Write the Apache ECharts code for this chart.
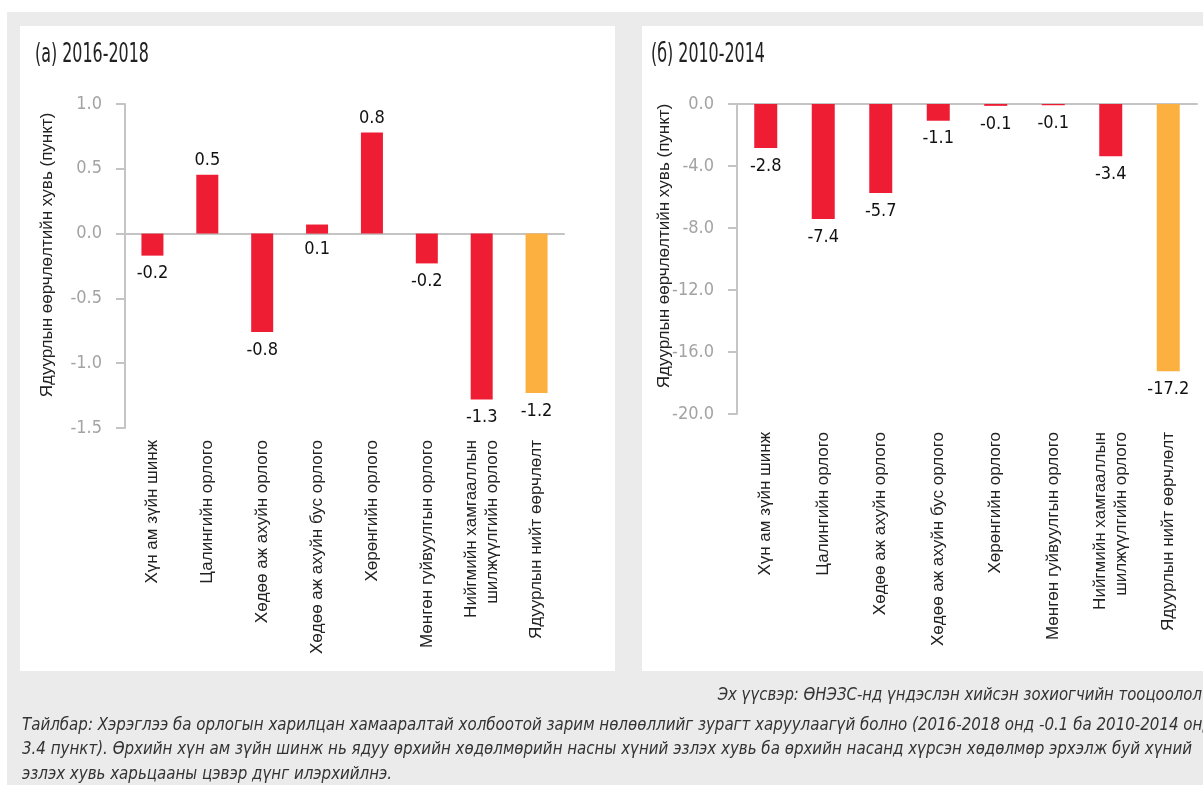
<!DOCTYPE html>
<html>
<head>
<meta charset="utf-8">
<script src="https://cdn.jsdelivr.net/npm/echarts@6/dist/echarts.min.js"></script>
<style>
html,body{margin:0;padding:0;background:#fff;}
#c{width:1203px;height:785px;}
</style>
</head>
<body>
<div id="c"></div>
<script>
// ---- data ----
const categories = [
  'Хүн ам зүйн шинж',
  'Цалингийн орлого',
  'Хөдөө аж ахуйн орлого',
  'Хөдөө аж ахуйн бус орлого',
  'Хөрөнгийн орлого',
  'Мөнгөн гуйвуулгын орлого',
  'Нийгмийн хамгааллын\nшилжүүлгийн орлого',
  'Ядуурлын нийт өөрчлөлт'
];
const valuesA = [-0.17, 0.455, -0.76, 0.07, 0.78, -0.23, -1.28, -1.23];
const valuesB = [-2.84, -7.42, -5.74, -1.08, -0.12, -0.08, -3.37, -17.24];
const titleA = '(а) 2016-2018';
const titleB = '(б) 2010-2014';
const yAxisName = 'Ядуурлын өөрчлөлтийн хувь (пункт)';
const yTicksA = {min: -1.5, max: 1.0, interval: 0.5};
const yTicksB = {min: -20, max: 0, interval: 4};
const sourceText = 'Эх үүсвэр: ӨНЭЗС-нд үндэслэн хийсэн зохиогчийн тооцоолол';
const noteLines = [
  'Тайлбар: Хэрэглээ ба орлогын харилцан хамааралтай холбоотой зарим нөлөөллийг зурагт харуулаагүй болно (2016-2018 онд -0.1 ба 2010-2014 онд',
  '3.4 пункт). Өрхийн хүн ам зүйн шинж нь ядуу өрхийн хөдөлмөрийн насны хүний эзлэх хувь ба өрхийн насанд хүрсэн хөдөлмөр эрхэлж буй хүний',
  'эзлэх хувь харьцааны цэвэр дүнг илэрхийлнэ.'
];

// ---- styles ----
const RED = '#EE1D34';
const ORANGE = '#FBB040';
const COND = '"Liberation Sans Narrow","DejaVu Sans Condensed","Roboto Condensed",sans-serif';
const SANS = '"Liberation Sans",Arial,sans-serif';
const AXIS_GRAY = '#c4c4c4';
const TICK_GRAY = '#a3a3a3';

function barData(vals) {
  return vals.map((v, i) => ({
    value: v,
    itemStyle: {color: i === vals.length - 1 ? ORANGE : RED}
  }));
}

const chart = echarts.init(document.getElementById('c'), null, {renderer: 'canvas'});

function yAxisCfg(grid, t) {
  return {
    type: 'value', gridIndex: grid, min: t.min, max: t.max, interval: t.interval,
    axisLine: {show: true, lineStyle: {color: AXIS_GRAY, width: 2}},
    axisTick: {show: true, length: 9, lineStyle: {color: AXIS_GRAY, width: 2}},
    splitLine: {show: false},
    axisLabel: {color: TICK_GRAY, fontFamily: COND, fontSize: 18, margin: 23,
      formatter: v => v.toFixed(1)}
  };
}
function xLabelAxis(grid, margin) {
  return {
    type: 'category', gridIndex: grid, data: categories, position: 'bottom',
    axisLine: {show: false, onZero: false}, axisTick: {show: false},
    axisLabel: {interval: 0, rotate: 90, margin: margin, color: '#222',
      fontFamily: SANS, fontSize: 17, lineHeight: 21}
  };
}
function xZeroAxis(grid, yIdx) {
  return {
    type: 'category', gridIndex: grid, data: categories,
    axisLine: {show: true, onZero: true, onZeroAxisIndex: yIdx, lineStyle: {color: AXIS_GRAY, width: 2}},
    axisTick: {show: false}, axisLabel: {show: false}, splitLine: {show: false}
  };
}

const titleFont = '26px ' + COND;
const noteFont = 'italic 18px ' + COND;

const option = {
  backgroundColor: '#fff',
  animation: false,
  graphic: [
    {type: 'rect', z: -10, shape: {x: 7, y: 12, width: 1200, height: 780}, style: {fill: '#ebebeb'}},
    {type: 'rect', z: -9, shape: {x: 20, y: 26, width: 595, height: 645}, style: {fill: '#fff'}},
    {type: 'rect', z: -9, shape: {x: 642, y: 26, width: 570, height: 645}, style: {fill: '#fff'}},
    {type: 'text', x: 35, y: 55, scaleX: 0.68, style: {text: titleA, font: titleFont, fill: '#222', verticalAlign: 'middle'}},
    {type: 'text', x: 651, y: 55, scaleX: 0.68, style: {text: titleB, font: titleFont, fill: '#222', verticalAlign: 'middle'}},
    {type: 'text', x: 47, y: 255, rotation: Math.PI / 2, style: {text: yAxisName, font: '17px ' + SANS, fill: '#222', align: 'center', verticalAlign: 'middle'}},
    {type: 'text', x: 664, y: 246, rotation: Math.PI / 2, style: {text: yAxisName, font: '17px ' + SANS, fill: '#222', align: 'center', verticalAlign: 'middle'}},
    {type: 'text', x: 1202, y: 695, scaleX: 0.92, style: {text: sourceText, font: noteFont, fill: '#333', align: 'right', verticalAlign: 'middle'}},
    ...noteLines.map((t, i) => ({type: 'text', x: 22, y: 725 + i * 24.5, scaleX: 0.93,
      style: {text: t, font: noteFont, fill: '#333', verticalAlign: 'middle'}}))
  ],
  grid: [
    {left: 125, top: 104, width: 439, height: 324, containLabel: false},
    {left: 737, top: 104, width: 460, height: 310, containLabel: false}
  ],
  xAxis: [xLabelAxis(0, 12), xZeroAxis(0, 0), xLabelAxis(1, 18), xZeroAxis(1, 1)],
  yAxis: [yAxisCfg(0, yTicksA), yAxisCfg(1, yTicksB)],
  series: [
    {
      type: 'bar', xAxisIndex: 0, yAxisIndex: 0, barWidth: 22,
      data: barData(valuesA),
      label: {show: true, position: 'top', distance: 5, color: '#111', fontFamily: COND, fontSize: 18,
        formatter: p => p.value.toFixed(1)}
    },
    {
      type: 'bar', xAxisIndex: 2, yAxisIndex: 1, barWidth: 23,
      data: barData(valuesB),
      label: {show: true, position: 'bottom', distance: 9, color: '#111', fontFamily: COND, fontSize: 18,
        formatter: p => p.value.toFixed(1)}
    }
  ]
};
// panel A: labels below for negative bars and for the tiny positive bar
option.series[0].data.forEach(d => {
  if (d.value < 0) d.label = {position: 'bottom', distance: 9};
  else if (d.value < 0.1) d.label = {position: 'bottom', distance: 7};
});
chart.setOption(option);
</script>
</body>
</html>
